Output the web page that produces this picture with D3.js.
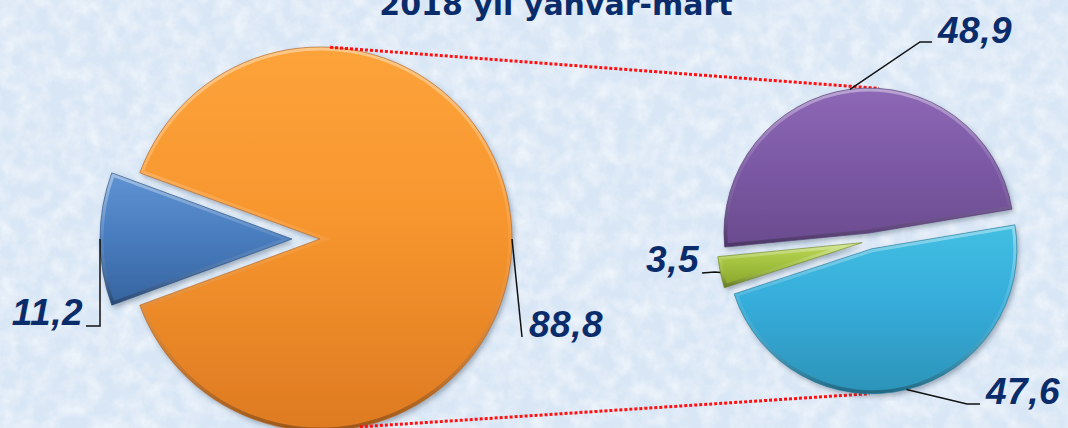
<!DOCTYPE html>
<html><head><meta charset="utf-8">
<script src="https://cdn.jsdelivr.net/npm/d3@7"></script>
<style>html,body{margin:0;padding:0;overflow:hidden;background:#dce8f5}</style>
</head><body>
<svg id="chart" width="1068" height="428"></svg>
<script>
// ---- data ----
const title = "2018 yıl yanvar-mart";
const mainCategories = ["Əsas", "Digər"];
const mainValues = [88.8, 11.2];
const subCategories = ["Sub A", "Sub B", "Sub C"];
const subValues = [48.9, 3.5, 47.6];

const mainColors = [["#fca33a", "#f7962e", "#de7a22"], ["#5f93d2", "#4a7ec0", "#36649f"]];
const subColors = [["#8d68b6", "#7d5aa6", "#6a4b8e"], ["#bcd85a", "#a3c23e", "#88a42c"], ["#42bfe2", "#36addb", "#2c93b8"]];

const fmt = d3.formatLocale({decimal: ",", thousands: " ", grouping: [3], currency: ["", ""]}).format(".1f");
const rad = Math.PI / 180;

const svg = d3.select("#chart");
const W = 1068, H = 428;
const defs = svg.append("defs");

// background texture
const tex = defs.append("filter").attr("id", "tex").attr("x", 0).attr("y", 0).attr("width", 1).attr("height", 1);
tex.append("feTurbulence").attr("type", "fractalNoise").attr("baseFrequency", "0.06").attr("numOctaves", 4).attr("seed", 3);
tex.append("feColorMatrix").attr("type", "matrix")
  .attr("values", "0 0 0 0 1  0 0 0 0 1  0 0 0 0 1  0 0 0 1.2 -0.4");
svg.append("rect").attr("width", W).attr("height", H).attr("fill", "#d8e6f5");
svg.append("rect").attr("width", W).attr("height", H).attr("fill", "#fff").attr("filter", "url(#tex)").attr("opacity", 0.85);

// shadow
const sh = defs.append("filter").attr("id", "shadow").attr("x", "-20%").attr("y", "-20%").attr("width", "140%").attr("height", "140%");
sh.append("feDropShadow").attr("dx", 2).attr("dy", 3).attr("stdDeviation", 2.5).attr("flood-color", "#3a4a60").attr("flood-opacity", 0.4);

// bevel stroke gradient
const bev = defs.append("linearGradient").attr("id", "bevel").attr("x1", 0).attr("y1", 0).attr("x2", 0).attr("y2", 1);
bev.append("stop").attr("offset", "0%").attr("stop-color", "#fff").attr("stop-opacity", 0.4);
bev.append("stop").attr("offset", "50%").attr("stop-color", "#fff").attr("stop-opacity", 0.08);
bev.append("stop").attr("offset", "100%").attr("stop-color", "#000").attr("stop-opacity", 0.3);

function grad(id, c) {
  const g = defs.append("linearGradient").attr("id", id).attr("x1", 0).attr("y1", 0).attr("x2", 0).attr("y2", 1);
  g.append("stop").attr("offset", "0%").attr("stop-color", c[0]);
  g.append("stop").attr("offset", "45%").attr("stop-color", c[1]);
  g.append("stop").attr("offset", "100%").attr("stop-color", c[2]);
}
mainColors.forEach((c, i) => grad("gm" + i, c));
subColors.forEach((c, i) => grad("gs" + i, c));

// ---- layout ----
const P1 = {cx: 320, cy: 239, r: 192};
const P2 = {cx: 870, cy: 241, r: 145};
const mainExplode = [0, 28];
const subExplode = [8, 8, 8];

// main pie: second slice centred on the left
const mainTotal = d3.sum(mainValues);
const mainStart = (270 - 360 * (mainValues[0] + mainValues[1] / 2) / mainTotal) * rad;
const pieMain = d3.pie().sort(null).value(d => d).startAngle(mainStart).endAngle(mainStart + 2 * Math.PI);
const arcsMain = pieMain(mainValues);

// sub pie: counter-clockwise from the right
const subStart = 440.5 * rad;
const pieSub = d3.pie().sort(null).value(d => d).startAngle(subStart).endAngle(subStart - 2 * Math.PI);
const arcsSub = pieSub(subValues);

function mid(a) { return (a.startAngle + a.endAngle) / 2; }
function offs(a, e) { const m = mid(a); return [Math.sin(m) * e, -Math.cos(m) * e]; }
function darkOf(prefix, i) { return prefix === "gm" ? mainColors[i][2] : subColors[i][2]; }

function drawPie(arcs, P, explode, prefix, cls) {
  const arc = d3.arc().innerRadius(0).outerRadius(P.r);
  const g = svg.append("g").attr("class", cls);
  arcs.forEach((a, i) => {
    const o = offs(a, explode[i]);
    const sg = g.append("g").attr("transform", `translate(${P.cx + o[0]},${P.cy + o[1]})`);
    const id = cls + "clip" + i;
    defs.append("clipPath").attr("id", id).append("path").attr("d", arc(a));
    sg.append("path").attr("d", arc(a)).attr("fill", `url(#${prefix}${i})`).attr("filter", "url(#shadow)");
    sg.append("path").attr("d", arc(a)).attr("fill", "none").attr("stroke", "url(#bevel)")
      .attr("stroke-width", 7).attr("clip-path", `url(#${id})`);
    sg.append("path").attr("d", arc(a)).attr("fill", "none")
      .attr("stroke", d3.color(darkOf(prefix, i)).darker(0.6)).attr("stroke-width", 0.8).attr("stroke-opacity", 0.8);
  });
}

function onCircle(P, deg, e, a) {
  const o = a ? offs(a, e) : [0, 0];
  return [P.cx + o[0] + P.r * Math.cos(deg * rad), P.cy + o[1] + P.r * Math.sin(deg * rad)];
}
drawPie(arcsMain, P1, mainExplode, "gm", "main");

// connector lines
const conn = [
  [onCircle(P1, -87), onCircle(P2, -86, subExplode[0], arcsSub[0])],
  [onCircle(P1, 78), onCircle(P2, 91, subExplode[2], arcsSub[2])]
];
svg.append("g").selectAll("line").data(conn).join("line")
  .attr("x1", d => d[0][0]).attr("y1", d => d[0][1]).attr("x2", d => d[1][0]).attr("y2", d => d[1][1])
  .attr("stroke", "#ff1010").attr("stroke-width", 3).attr("stroke-dasharray", "3 2");

drawPie(arcsSub, P2, subExplode, "gs", "sub");

// ---- labels ----
function anchor(a, P, e) {
  const o = offs(a, e), m = mid(a);
  return [P.cx + o[0] + Math.sin(m) * P.r, P.cy + o[1] - Math.cos(m) * P.r];
}
const labels = [
  {v: mainValues[1], a: anchor(arcsMain[1], P1, mainExplode[1]), pts: [[100, 326], [86, 326]], tx: 83, ty: 325, anchor: "end"},
  {v: mainValues[0], a: anchor(arcsMain[0], P1, mainExplode[0]), pts: [[522, 337]], tx: 529, ty: 337, anchor: "start"},
  {v: subValues[0], a: anchor(arcsSub[0], P2, subExplode[0]), pts: [[920, 42], [932, 42]], tx: 938, ty: 43, anchor: "start"},
  {v: subValues[1], a: anchor(arcsSub[1], P2, subExplode[1]), pts: [[715, 272], [702, 273]], tx: 699, ty: 272, anchor: "end"},
  {v: subValues[2], a: anchor(arcsSub[2], P2, subExplode[2]), pts: [[967, 404], [980, 404]], tx: 986, ty: 404, anchor: "start"}
];
const lg = svg.append("g");
labels.forEach(l => {
  lg.append("path").attr("d", d3.line()([l.a, ...l.pts])).attr("fill", "none").attr("stroke", "#111").attr("stroke-width", 1.5);
  lg.append("text").attr("x", l.tx).attr("y", l.ty).attr("text-anchor", l.anchor)
    .attr("font-family", "Liberation Sans, Arial, sans-serif").attr("font-weight", "bold").attr("font-style", "italic")
    .attr("font-size", 37).attr("letter-spacing", 0.5).attr("fill", "#0b2c6a").text(fmt(l.v));
});

// title
svg.append("text").attr("x", 556).attr("y", 15).attr("text-anchor", "middle")
  .attr("font-family", "DejaVu Sans, Verdana, sans-serif").attr("font-weight", "bold").attr("font-size", 30)
  .attr("fill", "#0b2c6a").text(title);
</script>
</body></html>
